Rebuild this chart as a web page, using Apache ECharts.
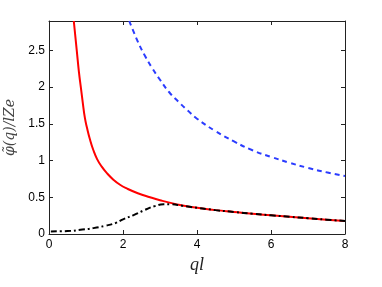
<!DOCTYPE html>
<html><head><meta charset="utf-8">
<script src="https://cdn.jsdelivr.net/npm/echarts@6/dist/echarts.min.js"></script>
<style>html,body{margin:0;padding:0;background:#fff}#c{width:382px;height:287px}</style>
</head><body><div id="c"></div>
<script>
const redQ = [0.67,0.75,0.81,0.86,0.91,0.97,1.03,1.1,1.2,1.3,1.42,1.58,1.74,1.92,2.1,2.4,2.73,3.0,3.4,3.8,4.5,5.0,5.5,6.0,6.5,7.0,7.5,8.0];
const redV = [2.9,2.5,2.2,2.0,1.8,1.58,1.44,1.3,1.14,1.02,0.92,0.82,0.74,0.67,0.62,0.555,0.5,0.46,0.41,0.37,0.325,0.3,0.275,0.255,0.235,0.215,0.195,0.178];
const blueQ = [2.17,2.4,2.6,2.8,3.0,3.25,3.5,3.75,4.0,4.5,5.0,5.5,6.0,6.5,7.0,7.5,8.0];
const blueV = [2.9,2.62,2.42,2.25,2.1,1.93,1.8,1.68,1.57,1.4,1.26,1.14,1.05,0.97,0.9,0.84,0.79];
const blackQ = [0.05,0.5,0.9,1.2,1.5,1.8,2.0,2.3,2.6,2.86,3.1,3.3,3.6,3.8,4.5,5.0,5.5,6.0,6.5,7.0,7.5,8.0];
const blackV = [0.035,0.04,0.06,0.08,0.11,0.15,0.2,0.26,0.33,0.38,0.405,0.405,0.385,0.37,0.325,0.3,0.275,0.255,0.235,0.215,0.195,0.178];
const xTicks = [0,2,4,6,8];
const yTicks = [0,0.5,1,1.5,2,2.5];

const zip = (a,b) => a.map((v,i)=>[v,b[i]]);
const chart = echarts.init(document.getElementById('c'), null, {renderer:'canvas'});
const axisCommon = {
  axisLine:{show:true,onZero:false,lineStyle:{color:'#222',width:1}},
  axisTick:{show:true,inside:true,length:4,lineStyle:{color:'#222'}},
  splitLine:{show:false}
};
const lblFont = {fontFamily:'Liberation Sans, Arial, sans-serif', fontSize:12, color:'#000'};
chart.setOption({
  animation:false,
  grid:{left:49,right:37,top:21,bottom:53,containLabel:false,outerBoundsMode:'none'},
  xAxis:[
    Object.assign({type:'value',min:0,max:8,interval:2,position:'bottom',
      name:'ql',nameLocation:'middle',nameGap:22,
      nameTextStyle:{fontFamily:'Liberation Serif, DejaVu Serif, serif',fontStyle:'italic',fontSize:18,color:'#222'},
      axisLabel:Object.assign({margin:5,formatter:v=>xTicks.includes(v)?String(v):''},lblFont)},axisCommon),
    Object.assign({type:'value',min:0,max:8,interval:2,position:'top',axisLabel:{show:false}},axisCommon)
  ],
  yAxis:[
    Object.assign({type:'value',min:0,max:2.9,interval:0.5,position:'left',
      name:'φ̃(q)/lZe',nameLocation:'middle',nameGap:32,nameRotate:90,
      nameTextStyle:{fontFamily:'DejaVu Serif, serif',fontStyle:'italic',fontSize:14,color:'#444'},
      axisLabel:Object.assign({margin:4,formatter:v=>yTicks.some(t=>Math.abs(t-v)<1e-9)?String(v):''},lblFont)},axisCommon),
    Object.assign({type:'value',min:0,max:2.9,interval:0.5,position:'right',axisLabel:{show:false}},axisCommon)
  ],
  series:[
    {type:'line',data:zip(blueQ,blueV),smooth:true,symbol:'none',lineStyle:{color:'#2b3cff',width:2,type:[5,4]},z:3},
    {type:'line',data:zip(redQ,redV),smooth:true,symbol:'none',lineStyle:{color:'#ff0000',width:2},z:2},
    {type:'line',data:zip(blackQ,blackV),smooth:true,symbol:'none',lineStyle:{color:'#000',width:2,type:[6,3,2,3]},z:4}
  ]
});
</script></body></html>
